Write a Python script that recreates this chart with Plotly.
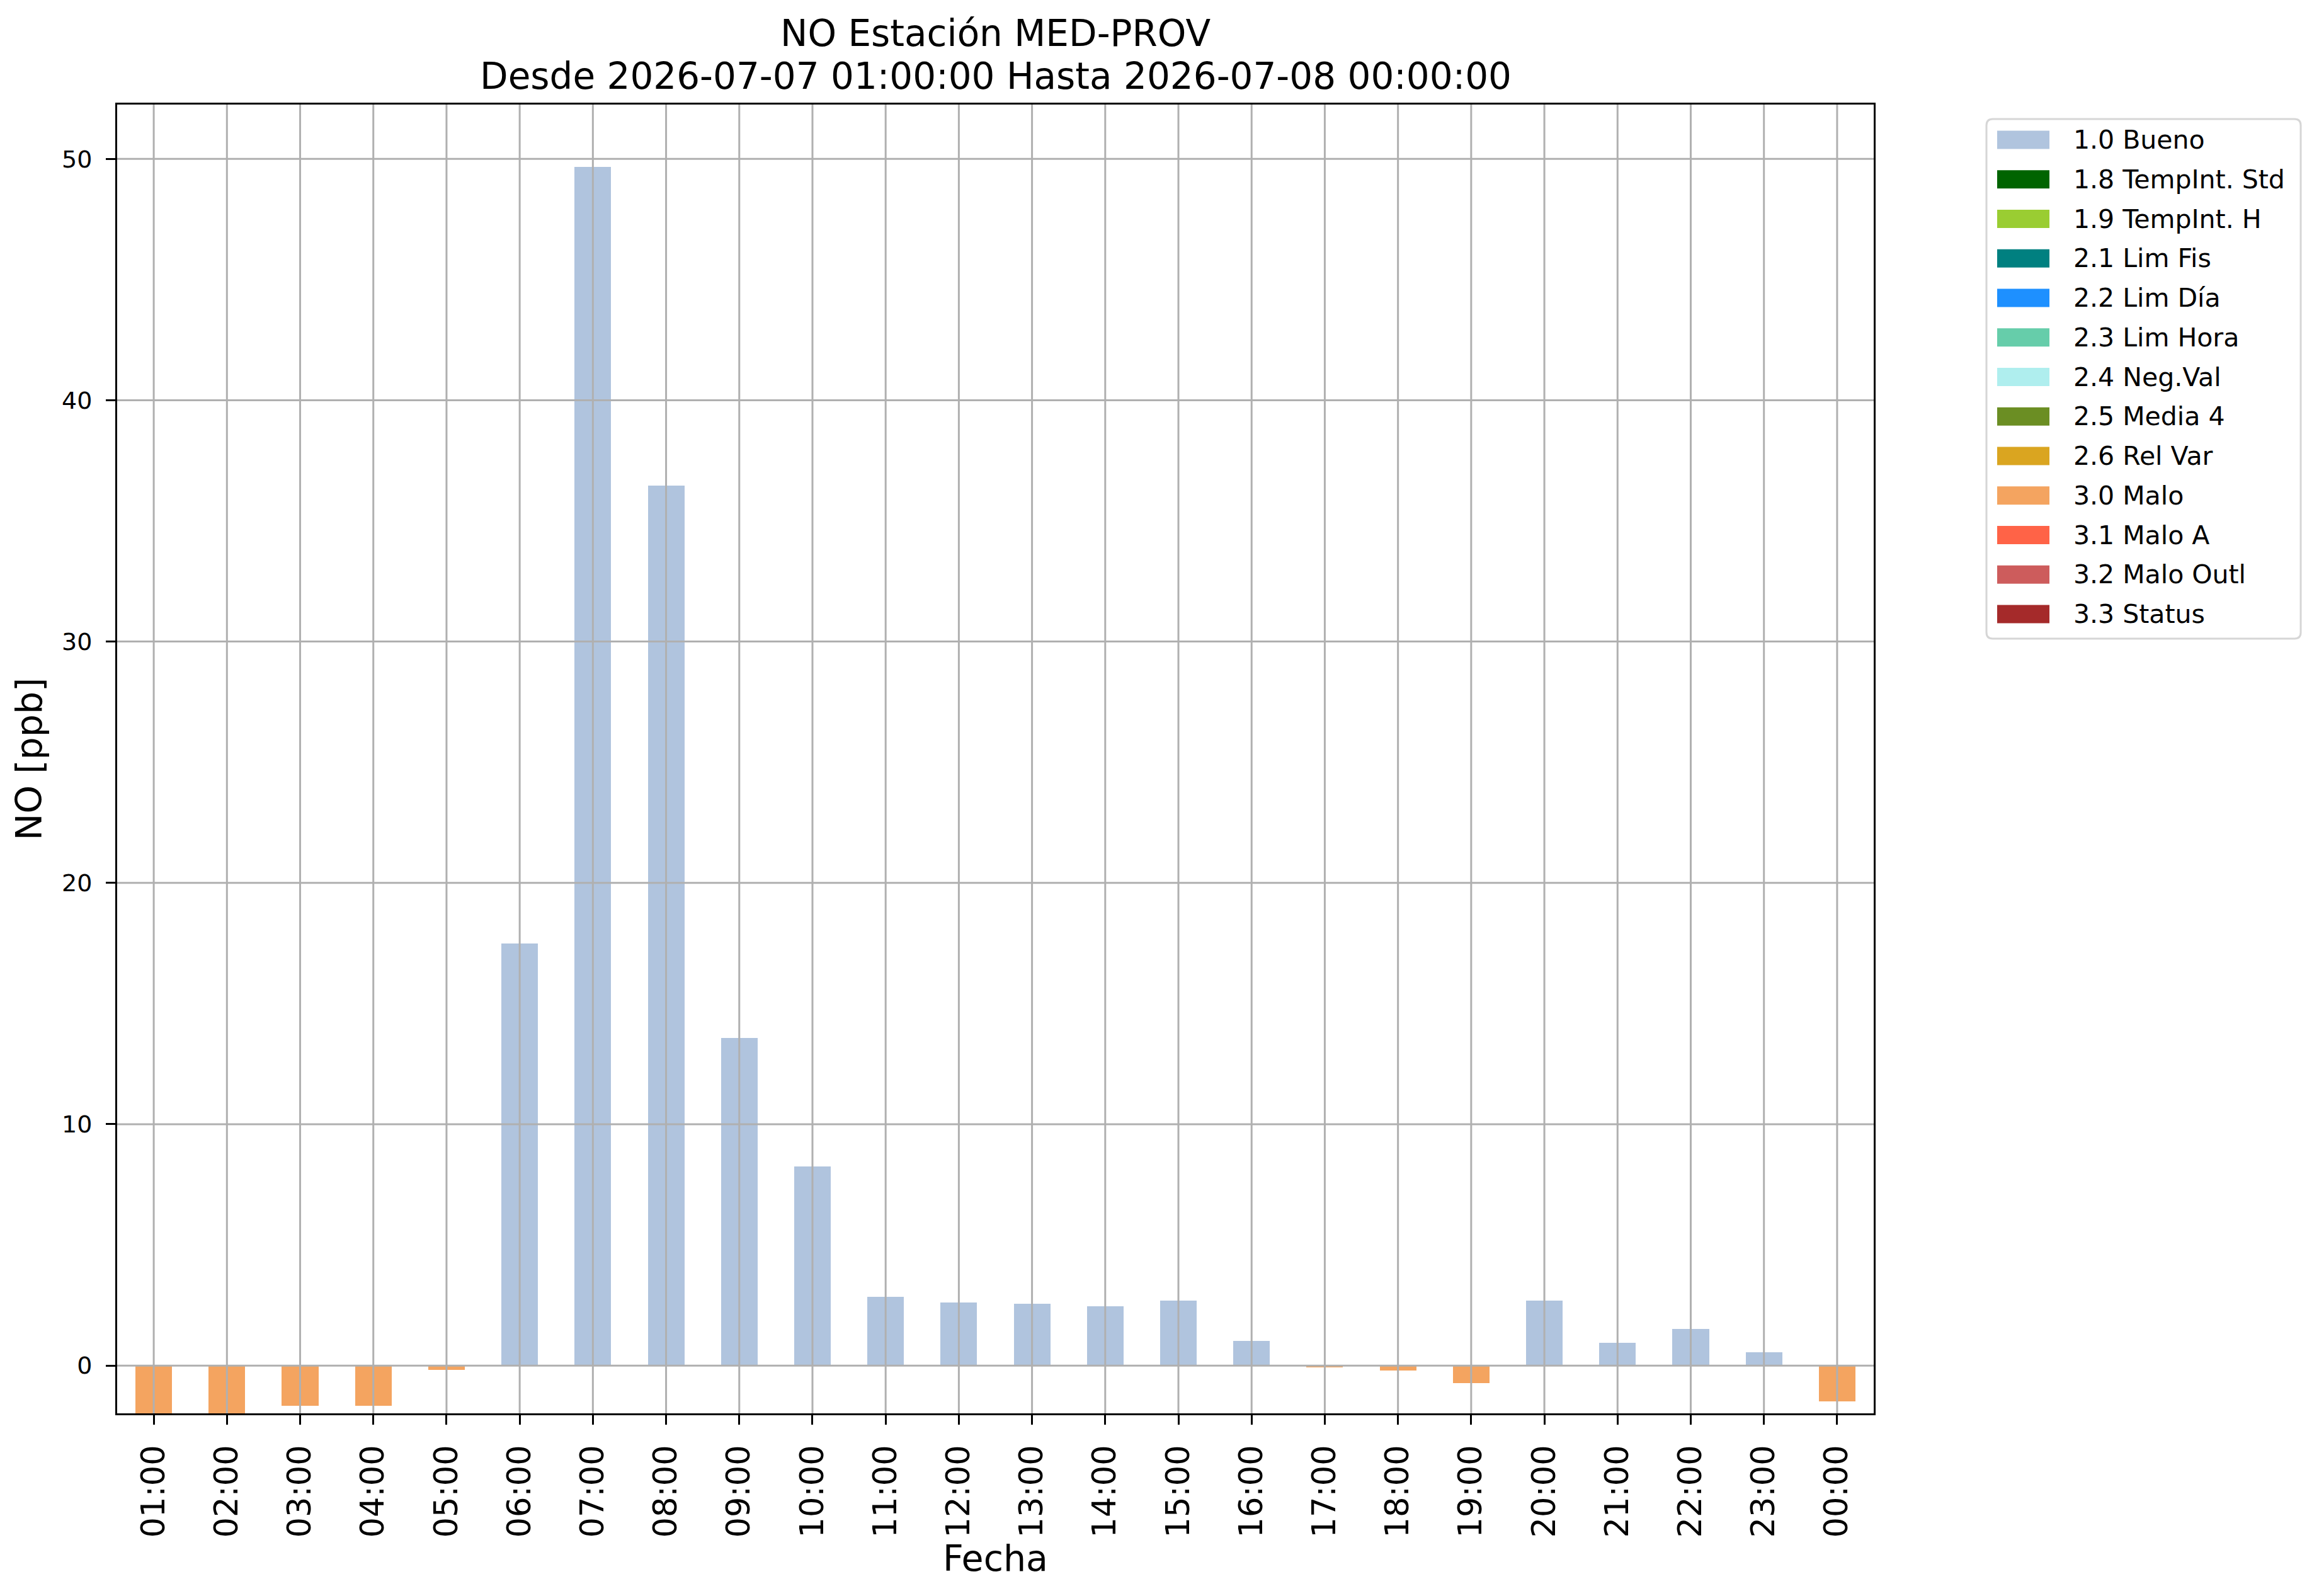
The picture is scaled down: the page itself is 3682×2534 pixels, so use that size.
import plotly.graph_objects as go

# datos
horas = ['01:00', '02:00', '03:00', '04:00', '05:00', '06:00', '07:00', '08:00',
         '09:00', '10:00', '11:00', '12:00', '13:00', '14:00', '15:00', '16:00',
         '17:00', '18:00', '19:00', '20:00', '21:00', '22:00', '23:00', '00:00']

# 1.0 Bueno
bueno = [None, None, None, None, None, 17.49, 49.66, 36.47,
         13.58, 8.26, 2.85, 2.61, 2.56, 2.45, 2.68, 1.02,
         None, None, None, 2.68, 0.95, 1.52, 0.55, None]

# 3.0 Malo
malo = [-2.2, -2.2, -1.66, -1.66, -0.17, None, None, None,
        None, None, None, None, None, None, None, None,
        -0.08, -0.2, -0.74, None, None, None, None, -1.49]

flag_labels = ['1.0 Bueno', '1.8 TempInt. Std', '1.9 TempInt. H', '2.1 Lim Fis',
               '2.2 Lim Día', '2.3 Lim Hora', '2.4 Neg.Val', '2.5 Media 4',
               '2.6 Rel Var', '3.0 Malo', '3.1 Malo A', '3.2 Malo Outl', '3.3 Status']
flag_colors = ['#B0C4DE', '#006400', '#9ACD32', '#008080', '#1E90FF', '#66CDAA',
               '#AFEEEE', '#6B8E23', '#DAA520', '#F4A460', '#FF6347', '#CD5C5C', '#A52A2A']

titulo = ['NO Estación MED-PROV', 'Desde 2026-07-07 01:00:00 Hasta 2026-07-08 00:00:00']

y_ticks = [0, 10, 20, 30, 40, 50]

'''layout en pixeles (coordenadas de la imagen)'''
W, H = 3682, 2534
body = 8  # margen por defecto del <body> en el navegador
ax_left, ax_right, ax_top, ax_bottom = 186, 2975, 166, 2244
font = 'DejaVu Sans'
grid_color = '#b0b0b0'


def px_x(p):
    return (p - ax_left) / (ax_right - ax_left)


def px_y(p):
    return (ax_bottom - p) / (ax_bottom - ax_top)


fig = go.Figure()
fig.add_trace(go.Bar(x=horas, y=bueno, width=0.5, marker=dict(color=flag_colors[0], line=dict(width=0)),
                     name=flag_labels[0], showlegend=False))
fig.add_trace(go.Bar(x=horas, y=malo, width=0.5, marker=dict(color=flag_colors[9], line=dict(width=0)),
                     name=flag_labels[9], showlegend=False))

shapes = []
# grid encima de las barras (como matplotlib)
for h in horas:
    shapes.append(dict(type='line', xref='x', yref='paper', x0=h, x1=h, y0=0, y1=1,
                       line=dict(color=grid_color, width=3), layer='above'))
for v in y_ticks:
    shapes.append(dict(type='line', xref='paper', yref='y', x0=0, x1=1, y0=v, y1=v,
                       line=dict(color=grid_color, width=3), layer='above'))

# leyenda dibujada a mano (parches rectangulares como matplotlib)
leg_l, leg_r, leg_t, leg_b = 3154, 3653, 189, 1014
r = 10
x0, x1, y0, y1 = px_x(leg_l), px_x(leg_r), px_y(leg_t), px_y(leg_b)
rx = r / (ax_right - ax_left)
ry = r / (ax_bottom - ax_top)
path = (f'M{x0 + rx},{y0} L{x1 - rx},{y0} Q{x1},{y0} {x1},{y0 - ry} '
        f'L{x1},{y1 + ry} Q{x1},{y1} {x1 - rx},{y1} L{x0 + rx},{y1} '
        f'Q{x0},{y1} {x0},{y1 + ry} L{x0},{y0 - ry} Q{x0},{y0} {x0 + rx},{y0} Z')
shapes.append(dict(type='path', xref='paper', yref='paper', path=path,
                   line=dict(color='#d6d6d6', width=3), fillcolor='white', layer='above'))

annotations = []
row0, row_step = 222, 62.75
for i, (lab, col) in enumerate(zip(flag_labels, flag_colors)):
    yc = row0 + i * row_step
    shapes.append(dict(type='rect', xref='paper', yref='paper',
                       x0=px_x(3171), x1=px_x(3254), y0=px_y(yc - 14.5), y1=px_y(yc + 14.5),
                       fillcolor=col, line=dict(width=0), layer='above'))
    annotations.append(dict(xref='paper', yref='paper', x=px_x(3290), y=px_y(yc),
                            xanchor='left', yanchor='middle', text=lab, showarrow=False,
                            font=dict(family=font, size=41, color='black')))

# titulo en dos lineas
for txt, yc in zip(titulo, [53, 121]):
    annotations.append(dict(xref='paper', yref='paper', x=0.5, y=px_y(yc),
                            xanchor='center', yanchor='middle', text=txt, showarrow=False,
                            font=dict(family=font, size=58, color='black')))

fig.update_layout(
    width=W - body, height=H - body,
    margin=dict(l=ax_left - body, r=W - ax_right, t=ax_top - body, b=H - ax_bottom, pad=0),
    paper_bgcolor='white', plot_bgcolor='white',
    barmode='overlay', bargap=0,
    showlegend=False,
    font=dict(family=font, color='black'),
    xaxis=dict(
        type='category', range=[-0.5, len(horas) - 0.5],
        showgrid=False, zeroline=False,
        showline=True, mirror=True, linecolor='black', linewidth=3,
        ticks='outside', ticklen=15, tickwidth=3, tickcolor='black',
        tickangle=-90, tickfont=dict(family=font, size=51, color='black'),
        ticklabelstandoff=12,
        title=dict(text='Fecha', font=dict(family=font, size=57, color='black'), standoff=6),
    ),
    yaxis=dict(
        range=[-1.98, 52.25], tickvals=y_ticks,
        showgrid=False, zeroline=False,
        showline=True, mirror=True, linecolor='black', linewidth=3,
        ticks='outside', ticklen=15, tickwidth=3, tickcolor='black',
        tickfont=dict(family=font, size=38, color='black'),
        ticklabelstandoff=14,
        title=dict(text='NO [ppb]', font=dict(family=font, size=57, color='black'), standoff=14),
    ),
    shapes=shapes,
    annotations=annotations,
)

fig.write_html('out.html')
